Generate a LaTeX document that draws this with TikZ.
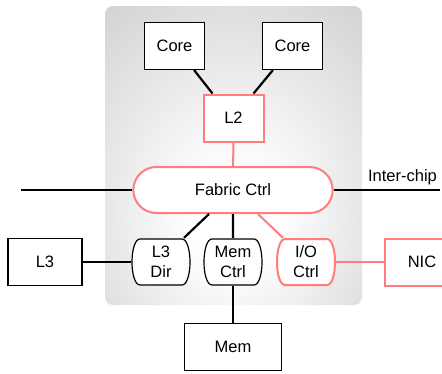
\documentclass[tikz,border=0pt]{standalone}
\usepackage{fontspec}
\setmainfont{Liberation Sans}
\usepackage{tikz}
\usetikzlibrary{shapes.misc,positioning}

\definecolor{linkred}{RGB}{255,125,125}
\pgfdeclareradialshading{chipglow}{\pgfpoint{0bp}{-12bp}}{%
  color(0bp)=(white); color(8bp)=(white); color(50bp)=(black!23); color(75bp)=(black!30)}
\pgfdeclarelayer{back}
\pgfsetlayers{back,main}

\tikzset{
  unit/.style={draw, line width=1.2pt, fill=white, minimum width=60pt, minimum height=47pt},
  redunit/.style={unit, draw=linkred, line width=2pt},
  ctrl/.style={minimum width=60pt, minimum height=48pt, align=center, inner sep=1pt},
  wire/.style={line width=2.2pt},
  redwire/.style={line width=2pt, draw=linkred},
}

\begin{document}
\begin{tikzpicture}[x=1pt, y=1pt, node distance=72pt,
                    every node/.style={font=\fontsize{16.5}{20}\selectfont}]
                    \useasboundingbox (0,0) rectangle (442,-373);
                    \node (fabric) [rounded rectangle, draw=linkred, line width=2pt, fill=white,
                          minimum width=206pt, minimum height=46pt] at (233,-190) {Fabric Ctrl};
                    \node (l2) [redunit, above of=fabric, xshift=0.5pt] {L2};
                    \node (core1) [unit, above of=l2, xshift=-59pt] {Core};
                    \node (core2) [unit, above of=l2, xshift=59pt] {Core};
                    \node (memctrl) [ctrl, below of=fabric] {Mem\\Ctrl};
                    \node (l3dir) [ctrl, left of=memctrl] {L3\\Dir};
                    \node (ioctrl) [ctrl, right of=memctrl, xshift=1pt] {I/O\\Ctrl};
                    \node (l3) [unit, minimum width=74pt, left of=l3dir, xshift=-44pt] {L3};
                    \node (nic) [redunit, minimum width=74pt, right of=ioctrl, xshift=44pt] {NIC};
                    \node (mem) [unit, minimum width=97pt, below of=memctrl, yshift=-13pt] {Mem};
                    \coordinate (chipL) at (21,-190);
                    \coordinate (chipR) at (440,-190);
                    % chip area and controller outlines
                    \begin{pgfonlayer}{back}
                      \shade[shading=chipglow, rounded corners=8pt] (105,-6) rectangle (362,-305);
                      \foreach \n/\c/\w in {l3dir/black/1.2pt, memctrl/black/1.2pt, ioctrl/linkred/2pt}
                        \draw[draw=\c, line width=\w, fill=white, shift={(\n.center)}]
                          (-21,23) -- (21,23) .. controls (26,23) and (29,12) .. (29,0)
                          .. controls (29,-12) and (26,-23) .. (21,-23) -- (-21,-23)
                          .. controls (-26,-23) and (-29,-12) .. (-29,0)
                          .. controls (-29,12) and (-26,23) .. cycle;
                    \end{pgfonlayer}
                    % core side
                    \draw[wire] ([xshift=-11pt]core1.south east) -- ([xshift=10pt]l2.north west);
                    \draw[wire] ([xshift=11pt]core2.south west) -- ([xshift=-11pt]l2.north east);
                    \draw[redwire] (l2) -- (fabric);
                    % off-chip links
                    \draw[wire] (chipL) -- (fabric.west);
                    \draw[wire] (fabric.east) -- (chipR) node (interchip) [anchor=south east, inner sep=2pt, yshift=2pt] {Inter-chip};
                    % controllers
                    \draw[wire] ([xshift=-24pt]fabric.south) -- ([xshift=23pt]l3dir.north);
                    \draw[wire] (fabric) -- (memctrl);
                    \draw[redwire] ([xshift=25pt]fabric.south) -- ([xshift=-23pt]ioctrl.north);
                    \draw[wire] (l3) -- (l3dir);
                    \draw[redwire] (ioctrl) -- (nic);
                    \draw[wire] (memctrl) -- (mem);
                \end{tikzpicture}
\end{document}
